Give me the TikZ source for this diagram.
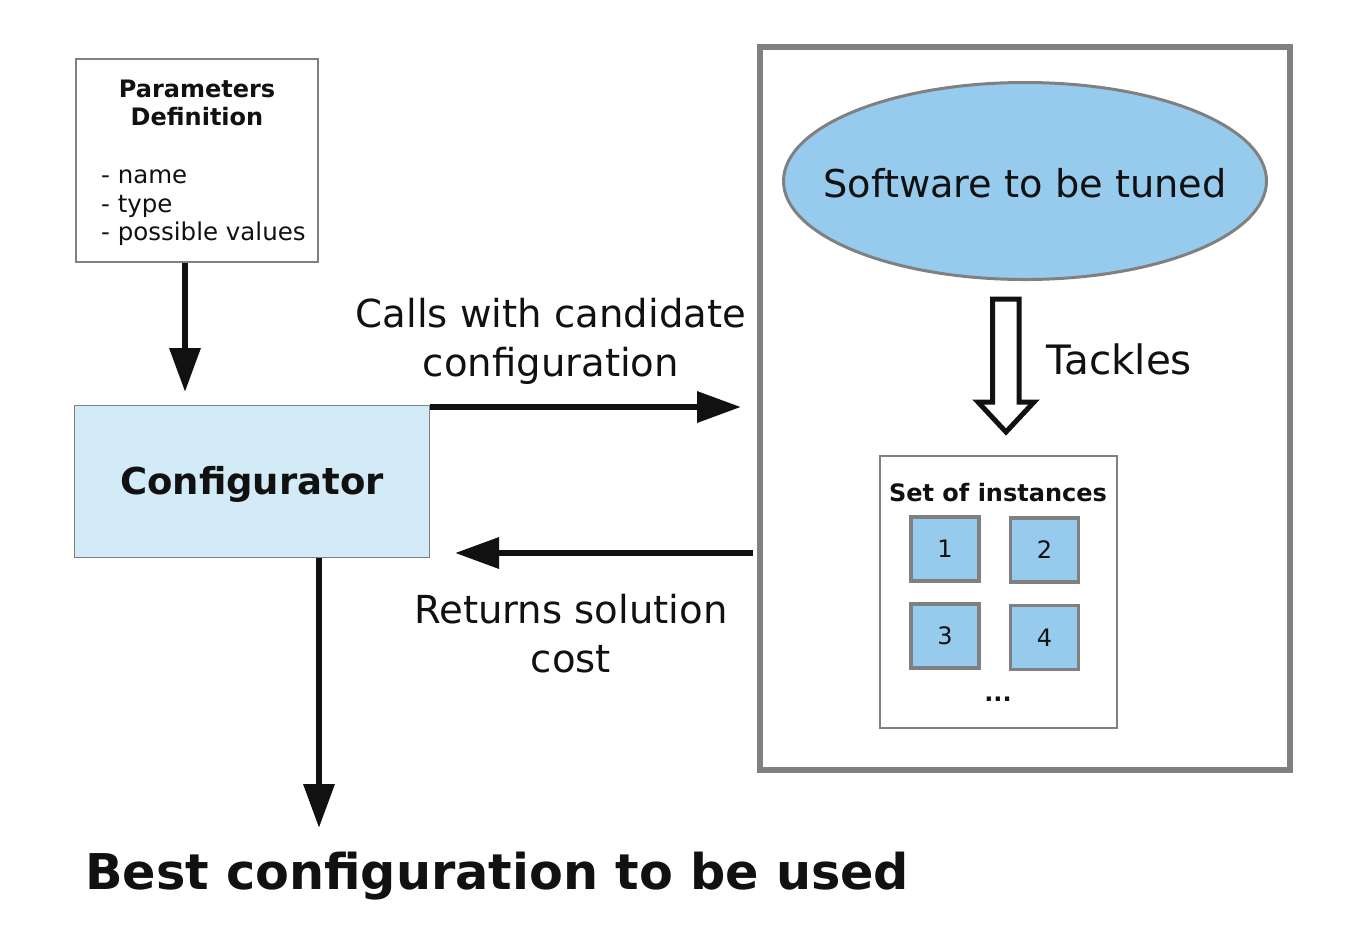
\documentclass[tikz,border=0pt]{standalone}
\usepackage{fontspec}
\setmainfont{DejaVu Sans}
\usetikzlibrary{arrows.meta,shapes.geometric}
\definecolor{ink}{HTML}{111111}
\definecolor{edge}{HTML}{808080}
\definecolor{cfgfill}{HTML}{D3EAF7}
\definecolor{blu}{HTML}{96CBEE}
\tikzset{
  arr/.style={draw=ink, line width=6.5pt, -{Triangle[length=44pt,width=30pt]}},
  sq/.style={draw=edge, fill=blu, line width=3.5pt, minimum width=68pt, minimum height=64pt, inner sep=0pt, font=\fontsize{24}{28}\selectfont, text=ink},
  lbl/.style={font=\fontsize{38.6}{49}\selectfont, text=ink, align=center, inner sep=0pt},
}
\begin{document}
\begin{tikzpicture}[x=1pt,y=-1pt]
\useasboundingbox (0,0) rectangle (1364,927);
% parameters box
\node[draw=edge, line width=2.5pt, minimum width=242pt, minimum height=203pt, inner sep=0pt] (params) at (197,160.5) {};
\node[font=\bfseries\fontsize{24}{28.5}\selectfont, align=center, text=ink, inner sep=0pt] (ptitle) at (197,103) {Parameters\\Definition};
\node[font=\fontsize{24.5}{28.5}\selectfont, align=left, text=ink, inner sep=0pt, anchor=west] (plist) at (101,208) {- name\\- type\\- possible values};
% configurator
\node[draw=edge, fill=cfgfill, line width=1pt, minimum width=355pt, minimum height=152pt, inner sep=0pt] (cfg) at (251.5,481) {};
\node[font=\bfseries\fontsize{37}{44}\selectfont, text=ink, inner sep=0pt] (cfgtxt) at (252,484) {Configurator};
% big box
\node[draw=edge, line width=5.5pt, minimum width=530pt, minimum height=723pt, inner sep=0pt] (big) at (1025,408.5) {};
\node[ellipse, draw=edge, fill=blu, line width=3pt, minimum width=483pt, minimum height=197pt, inner sep=0pt] (sw) at (1025,181) {};
\node[font=\fontsize{38.3}{44}\selectfont, text=ink, inner sep=0pt] (swtxt) at (1025,183) {Software to be tuned};
% set of instances
\node[draw=edge, line width=2.5pt, minimum width=237pt, minimum height=272pt, inner sep=0pt] (set) at (998.5,592) {};
\node[font=\bfseries\fontsize{24}{28}\selectfont, text=ink, inner sep=0pt] (settitle) at (998,493) {Set of instances};
\node[sq] (i1) at (945,549) {1};
\node[sq] (i2) at (1044.5,550) {2};
\node[sq] (i3) at (945,636) {3};
\node[sq] (i4) at (1044.5,637.5) {4};
\node[font=\bfseries\fontsize{24}{28}\selectfont, text=ink, inner sep=0pt] (dots) at (998,699) {...};
% hollow arrow (tackles)
\draw[draw=ink, fill=white, line width=5pt, line join=miter]
  (992.5,299) -- (1019,299) -- (1019,402) -- (1034,402) -- (1006,432) -- (978,402) -- (992.5,402) -- cycle;
\node[font=\fontsize{40.5}{49}\selectfont, text=ink, inner sep=0pt, anchor=west] (tackles) at (1046,359) {Tackles};
% connectors
\coordinate (pin) at (185,392);
\draw[arr] (params.south -| pin) -- (pin);
\coordinate (callEnd) at (741,407);
\draw[arr] (cfg.north east |- callEnd) -- (callEnd);
\coordinate (retEnd) at (455,553);
\coordinate (retStart) at (753,553);
\draw[arr] (retStart) -- (retEnd);
\coordinate (outEnd) at (319,828);
\draw[arr] (cfg.south -| outEnd) -- (outEnd);
% labels
\node[lbl] (calls) at (551,341) {Calls with candidate\\configuration};
\node[lbl] (rets) at (571,634) {Returns solution\\cost};
\node[font=\bfseries\fontsize{49.3}{56}\selectfont, text=ink, inner sep=0pt, anchor=west] (best) at (85,876) {Best configuration to be used};
\end{tikzpicture}
\end{document}
